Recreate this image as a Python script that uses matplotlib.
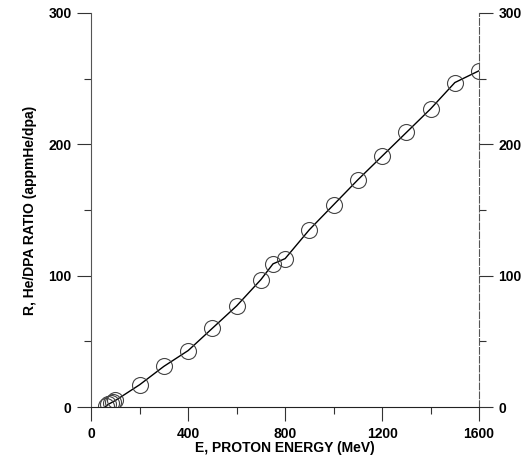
import matplotlib
matplotlib.use('Agg')
import matplotlib.pyplot as plt
from matplotlib.ticker import MultipleLocator

plt.rcParams['font.family'] = ['Liberation Sans', 'DejaVu Sans']

energy = [60, 70, 80, 90, 100, 200, 300, 400, 500, 600, 700, 750, 800,
          900, 1000, 1100, 1200, 1300, 1400, 1500, 1600]
ratio = [0.5, 2, 3, 4, 5, 17, 31, 43, 60, 77, 97, 109, 113,
         135, 154, 173, 191, 209, 227, 247, 256]

fig = plt.figure(figsize=(5.3, 4.61), dpi=100)
ax = fig.add_axes([0.172, 0.117, 0.732, 0.855])

ax.plot(energy, ratio, color='black', lw=1.0)
ax.plot(energy, ratio, 'o', ms=11.5, mfc='none', mec='#444444', mew=0.8)

ax.set_xlim(0, 1600)
ax.set_ylim(0, 300)
ax.xaxis.set_major_locator(MultipleLocator(400))
ax.xaxis.set_minor_locator(MultipleLocator(200))
ax.yaxis.set_major_locator(MultipleLocator(100))
ax.yaxis.set_minor_locator(MultipleLocator(50))

ax.spines['top'].set_visible(False)
for s in ['left', 'right', 'bottom']:
    ax.spines[s].set_linewidth(0.8)
ax.spines['left'].set_color('#555555')
ax.spines['right'].set_color('#555555')
ax.spines['right'].set_linestyle((0, (6, 2)))
ax.spines['bottom'].set_color('#222222')

ax.tick_params(which='both', direction='out', right=True, labelright=True,
               left=True, labelleft=True, top=False, color='#333333')
ax.tick_params(which='major', length=10, width=0.8, labelsize=10, pad=4)
ax.tick_params(which='minor', length=5, width=0.8)
for lab in ax.get_xticklabels() + ax.get_yticklabels():
    lab.set_fontweight('bold')

ax.set_xlabel('E, PROTON ENERGY (MeV)', fontsize=10, fontweight='bold', labelpad=0)
ax.set_ylabel('R, He/DPA RATIO (appmHe/dpa)', fontsize=10, fontweight='bold', labelpad=8)

fig.savefig('out.png', dpi=100)
